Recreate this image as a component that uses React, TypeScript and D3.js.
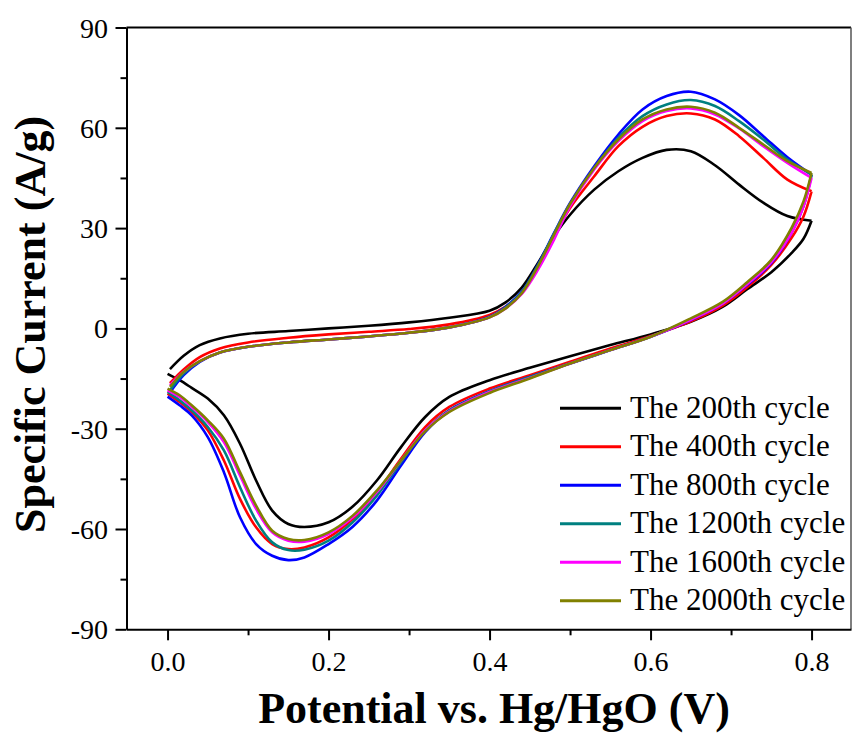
import { useRef, useEffect } from "react";
import * as d3 from "d3";

const W = 853;
const H = 733;
const plot = { left: 126.5, right: 851, top: 27.5, bottom: 629.3 };

// potentials of the forward (anodic) and reverse (cathodic) scans, V
const anodicV = [0.003, 0.02, 0.04, 0.065, 0.1, 0.15, 0.2, 0.25, 0.3, 0.35, 0.4, 0.42, 0.44, 0.46, 0.48, 0.5, 0.53, 0.56, 0.59, 0.62, 0.65, 0.68, 0.71, 0.74, 0.77, 0.8];
const cathodicV = [0.8, 0.79, 0.775, 0.75, 0.72, 0.69, 0.65, 0.6, 0.55, 0.5, 0.45, 0.4, 0.35, 0.32, 0.29, 0.26, 0.23, 0.2, 0.17, 0.15, 0.13, 0.11, 0.09, 0.07, 0.05, 0.03, 0.015, 0.0];

const cycleNames = ["The 200th cycle", "The 400th cycle", "The 800th cycle", "The 1200th cycle", "The 1600th cycle", "The 2000th cycle"];
const cycleColors = ["#000000", "#ff0000", "#0000ff", "#008080", "#ff00ff", "#808000"];

// specific current, A/g
const anodic200 = [-12.2, -8.2, -5.0, -3.0, -1.6, -0.8, 0, 0.8, 1.8, 3.2, 5.3, 7.8, 12.2, 19.5, 27.5, 34, 41.5, 47, 51, 53.4, 53, 48.8, 43, 37.6, 33.6, 32.2];
const anodic400 = [-16.4, -12.3, -8.6, -6.0, -4.2, -2.8, -1.8, -1.0, -0.2, 1.2, 4, 6.5, 10.5, 18.5, 27.5, 36, 45.5, 54.5, 60.3, 63.5, 64.3, 62.5, 57.5, 51, 44.5, 41];
const anodic800 = [-19.2, -14, -10, -7.2, -5.5, -4.2, -3.3, -2.4, -1.3, 0.3, 3.5, 6.5, 11, 19, 28.5, 37.5, 48.5, 58, 65.5, 69.5, 70.8, 68.5, 63.8, 57.5, 51.2, 46];
const anodic1200 = [-18.5, -13.5, -9.9, -7.2, -5.5, -4.2, -3.3, -2.4, -1.3, 0.3, 3.4, 6.3, 10.8, 18.8, 28.3, 37.2, 48, 57, 63.5, 67, 68.3, 66.5, 62, 56.5, 50.5, 46];
const anodic1600 = [-17, -13, -9.8, -7.2, -5.5, -4.2, -3.3, -2.4, -1.3, 0.3, 3.3, 6, 10.3, 17.5, 26.5, 36.5, 47.5, 56, 62, 65, 65.8, 64, 59.8, 54.5, 49.5, 45];
const anodic2000 = [-17.5, -13, -9.8, -7.2, -5.5, -4.2, -3.3, -2.4, -1.3, 0.3, 3.3, 6, 10.5, 18.5, 28, 37.2, 48, 56.5, 62.5, 65.5, 66.3, 64.5, 60, 55, 50, 46.5];

const cathodic200 = [32.2, 26.8, 22.5, 16.8, 11.7, 6.5, 2, -1.8, -5, -8.3, -11.8, -15.5, -20.5, -26.5, -35.5, -45.5, -53.3, -58, -59.4, -58.5, -54.5, -45.5, -34.5, -26, -21, -17.8, -15.5, -13.6];
const cathodic400 = [41, 33.5, 27, 19, 12.3, 6.9, 2.1, -2.3, -6, -10, -14, -18, -23.5, -29.5, -39, -49, -57, -62.5, -65.5, -66, -64.5, -59.5, -51, -39.5, -30.5, -25, -22, -19.5];
const cathodic800 = [46, 36.5, 28.5, 19.5, 13, 7.5, 2.5, -2.5, -6.5, -10.5, -14.5, -18.8, -24.5, -31, -41, -51.5, -59.3, -64.5, -68.5, -69.3, -68, -64.5, -56.5, -43, -32.5, -26, -23, -20.4];
const cathodic1200 = [46, 37, 29, 20, 13.3, 7.5, 2.7, -2.5, -6.5, -10.5, -14.5, -18.8, -24.5, -30.5, -40, -50, -58, -63.5, -66.2, -66.3, -64, -57.5, -47.5, -36.5, -29.5, -24.5, -21.5, -19];
const cathodic1600 = [45, 36.5, 28.5, 19.8, 13.2, 7.5, 2.6, -2.5, -6.5, -10.5, -14.8, -19, -24.8, -30.5, -39.5, -49, -56.5, -61.5, -63.8, -63.5, -61, -54, -44, -34, -28, -23.5, -20.5, -18.5];
const cathodic2000 = [46.5, 38, 30, 20.5, 13.8, 8, 3, -2.5, -6.5, -10.5, -15, -19.3, -25, -30.8, -39.5, -48.5, -56, -61, -63.3, -63, -60.5, -53, -43, -33, -27.5, -23, -20, -18];

const anodicAll = [anodic200, anodic400, anodic800, anodic1200, anodic1600, anodic2000];
const cathodicAll = [cathodic200, cathodic400, cathodic800, cathodic1200, cathodic1600, cathodic2000];

const xTicks = [0, 0.2, 0.4, 0.6, 0.8];
const xMinor = [0.1, 0.3, 0.5, 0.7];
const yTicks = [-90, -60, -30, 0, 30, 60, 90];
const yMinor = [-75, -45, -15, 15, 45, 75];

const FONT = '"Liberation Serif", "Times New Roman", Times, "DejaVu Serif", serif';

export default function App() {
  const svgRef = useRef<SVGSVGElement>(null);

  useEffect(() => {
    const svg = d3.select(svgRef.current);
    svg.selectAll("*").remove();

    const x = d3.scaleLinear().domain([-0.051, 0.849]).range([plot.left, plot.right]);
    const y = d3.scaleLinear().domain([-90, 90]).range([plot.bottom, plot.top]);

    // curves
    const line = d3
      .line<[number, number]>()
      .x((d) => x(d[0]))
      .y((d) => y(d[1]))
      .curve(d3.curveCatmullRom.alpha(0.5));

    const curves = svg.append("g");
    cycleNames.forEach((name, i) => {
      const fwd = anodicV.map((v, j) => [v, anodicAll[i][j]] as [number, number]);
      const rev = cathodicV.map((v, j) => [v, cathodicAll[i][j]] as [number, number]);
      curves
        .append("path")
        .attr("d", (line(fwd) || "") + (line(rev) || ""))
        .attr("fill", "none")
        .attr("stroke", cycleColors[i])
        .attr("stroke-width", 2.6)
        .attr("stroke-linejoin", "round");
    });

    // frame
    svg.append("line")
      .attr("x1", plot.left).attr("x2", plot.right)
      .attr("y1", plot.top).attr("y2", plot.top)
      .attr("stroke", "#000").attr("stroke-width", 2);
    svg.append("line")
      .attr("x1", plot.right).attr("x2", plot.right)
      .attr("y1", plot.top).attr("y2", plot.bottom)
      .attr("stroke", "#555").attr("stroke-width", 1.5);

    // x-axis
    const xAxis = svg.append("g")
      .attr("transform", `translate(0, ${plot.bottom})`)
      .call(
        d3.axisBottom(x).tickValues(xTicks).tickFormat((d) => d3.format(".1f")(d as number))
          .tickSize(11).tickSizeOuter(0).tickPadding(11)
      );
    svg.append("g")
      .attr("transform", `translate(0, ${plot.bottom})`)
      .call(d3.axisBottom(x).tickValues(xMinor).tickFormat(() => "").tickSize(6).tickSizeOuter(0))
      .call((g) => g.select(".domain").remove())
      .selectAll("line").attr("stroke-width", 2);

    // y-axis
    const yAxis = svg.append("g")
      .attr("transform", `translate(${plot.left}, 0)`)
      .call(
        d3.axisLeft(y).tickValues(yTicks).tickFormat((d) => String(d))
          .tickSize(11).tickSizeOuter(0).tickPadding(7.5)
      );
    svg.append("g")
      .attr("transform", `translate(${plot.left}, 0)`)
      .call(d3.axisLeft(y).tickValues(yMinor).tickFormat(() => "").tickSize(6).tickSizeOuter(0))
      .call((g) => g.select(".domain").remove())
      .selectAll("line").attr("stroke-width", 2);

    [xAxis, yAxis].forEach((g) => {
      g.attr("font-family", null);
      g.select(".domain").attr("stroke-width", 2);
      g.selectAll(".tick line").attr("stroke-width", 2);
      g.selectAll(".tick text")
        .style("font-family", FONT)
        .style("font-size", "28px")
        .attr("fill", "#000");
    });
    yAxis.selectAll(".tick text").attr("dy", "0.34em");

    // axis titles
    svg.append("text")
      .attr("x", 494)
      .attr("y", 723)
      .attr("text-anchor", "middle")
      .style("font-family", FONT)
      .style("font-weight", "bold")
      .style("font-size", "44px")
      .text("Potential vs. Hg/HgO (V)");
    svg.append("text")
      .attr("transform", `translate(45, 324.5) rotate(-90)`)
      .attr("text-anchor", "middle")
      .style("font-family", FONT)
      .style("font-weight", "bold")
      .style("font-size", "44px")
      .text("Specific Current (A/g)");

    // legend
    const legend = svg.append("g");
    cycleNames.forEach((name, i) => {
      const ly = 408.3 + i * 38.5;
      legend.append("line")
        .attr("x1", 560).attr("x2", 621)
        .attr("y1", ly).attr("y2", ly)
        .attr("stroke", cycleColors[i])
        .attr("stroke-width", 3);
      legend.append("text")
        .attr("x", 630)
        .attr("y", ly + 9.5)
        .style("font-family", FONT)
        .style("font-size", "31px")
        .text(name);
    });
  }, []);

  return (
    <svg
      ref={svgRef}
      width={W}
      height={H}
      style={{ position: "absolute", left: 0, top: 0, display: "block", background: "#fff", fontFamily: FONT }}
    />
  );
}
